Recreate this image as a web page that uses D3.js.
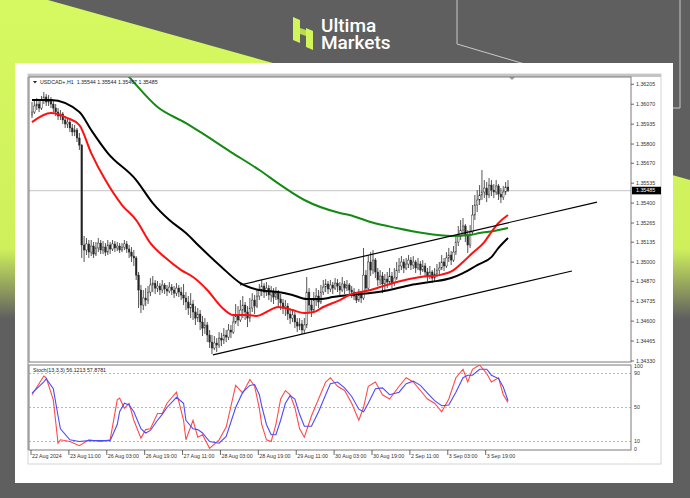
<!DOCTYPE html>
<html><head><meta charset="utf-8">
<script src="https://cdn.jsdelivr.net/npm/d3@7/dist/d3.min.js"></script>
<style>body{margin:0;background:#5f5f5f;}svg{display:block}</style>
</head><body><svg id="c" width="690" height="498"></svg>
<script>
// ---------------- DATA ----------------
const brandLines = ["Ultima","Markets"];
const symbolTitle = "USDCAD+,H1  1.35544 1.35544 1.35467 1.35485";
const stochTitle = "Stoch(13,3,3) 56.1213 57.8781";
const firstOpen = 1.35997;
const closes = [
1.36017,1.36058,1.36071,1.36044,1.36098,1.36119,1.36085,1.36098,1.36071,1.36044,
1.36017,1.35990,1.36004,1.35963,1.35936,1.35949,1.35909,1.35882,1.35895,1.35841,
1.35793,1.35116,1.35082,1.35123,1.35068,1.35109,1.35055,1.35096,1.35129,1.35082,
1.35102,1.35068,1.35116,1.35089,1.35123,1.35096,1.35109,1.35082,1.35102,1.35123,
1.35089,1.35068,1.35041,1.35028,1.34912,1.34811,1.34709,1.34757,1.34743,1.34797,
1.34845,1.34858,1.34824,1.34838,1.34811,1.34845,1.34818,1.34804,1.34831,1.34811,
1.34790,1.34824,1.34797,1.34777,1.34757,1.34730,1.34689,1.34716,1.34662,1.34621,
1.34648,1.34594,1.34553,1.34574,1.34506,1.34458,1.34418,1.34452,1.34438,1.34485,
1.34472,1.34506,1.34492,1.34540,1.34526,1.34594,1.34635,1.34608,1.34675,1.34709,
1.34662,1.34621,1.34689,1.34743,1.34702,1.34770,1.34811,1.34838,1.34797,1.34824,
1.34777,1.34804,1.34763,1.34790,1.34750,1.34723,1.34689,1.34702,1.34648,1.34621,
1.34642,1.34594,1.34567,1.34581,1.34540,1.34574,1.34797,1.34709,1.34675,1.34743,
1.34770,1.34730,1.34797,1.34831,1.34852,1.34818,1.34845,1.34824,1.34858,1.34838,
1.34811,1.34852,1.34824,1.34845,1.34811,1.34797,1.34770,1.34743,1.34777,1.34757,
1.34912,1.34824,1.35001,1.34946,1.35014,1.34933,1.34879,1.34906,1.34852,1.34885,
1.34865,1.34906,1.34858,1.34892,1.34946,1.34974,1.35001,1.34960,1.34987,1.35014,
1.34980,1.35001,1.34960,1.34987,1.34946,1.34974,1.34933,1.34906,1.34933,1.34892,
1.34919,1.34946,1.34960,1.35001,1.34974,1.35028,1.35048,1.35014,1.35068,1.35136,
1.35177,1.35217,1.35245,1.35184,1.35116,1.35204,1.35319,1.35387,1.35421,1.35455,
1.35475,1.35502,1.35455,1.35522,1.35488,1.35475,1.35516,1.35461,1.35441,1.35475,
1.35509,1.35485];
const highs = [
1.36085,1.36098,1.36112,1.36098,1.36126,1.36153,1.36139,1.36132,1.36119,1.36098,
1.36071,1.36044,1.36031,1.36017,1.35990,1.35976,1.35963,1.35936,1.35929,1.35909,
1.35875,1.35800,1.35177,1.35163,1.35150,1.35150,1.35136,1.35136,1.35163,1.35150,
1.35143,1.35129,1.35150,1.35136,1.35150,1.35143,1.35136,1.35129,1.35129,1.35150,
1.35143,1.35116,1.35102,1.35082,1.35041,1.34933,1.34845,1.34811,1.34824,1.34838,
1.34892,1.34906,1.34879,1.34872,1.34858,1.34879,1.34858,1.34845,1.34865,1.34852,
1.34838,1.34858,1.34845,1.34831,1.34852,1.34797,1.34770,1.34790,1.34743,1.34702,
1.34689,1.34675,1.34635,1.34621,1.34594,1.34540,1.34506,1.34499,1.34485,1.34526,
1.34520,1.34553,1.34540,1.34581,1.34574,1.34648,1.34716,1.34702,1.34743,1.34770,
1.34730,1.34702,1.34757,1.34790,1.34777,1.34811,1.34852,1.34879,1.34858,1.34865,
1.34845,1.34838,1.34824,1.34831,1.34811,1.34784,1.34750,1.34743,1.34723,1.34689,
1.34675,1.34662,1.34621,1.34621,1.34608,1.34621,1.34899,1.34824,1.34757,1.34797,
1.34824,1.34811,1.34845,1.34879,1.34885,1.34872,1.34879,1.34865,1.34892,1.34885,
1.34865,1.34899,1.34872,1.34879,1.34858,1.34838,1.34824,1.34797,1.34818,1.34804,
1.35096,1.34946,1.35048,1.35068,1.35082,1.35028,1.34960,1.34946,1.34933,1.34919,
1.34933,1.34960,1.34933,1.34960,1.35001,1.35028,1.35041,1.35021,1.35028,1.35048,
1.35034,1.35041,1.35014,1.35028,1.35007,1.35014,1.34994,1.34960,1.34974,1.34946,
1.34960,1.34987,1.35001,1.35048,1.35028,1.35068,1.35096,1.35075,1.35109,1.35184,
1.35245,1.35285,1.35299,1.35258,1.35217,1.35251,1.35387,1.35455,1.35488,1.35522,
1.35624,1.35556,1.35543,1.35570,1.35556,1.35529,1.35556,1.35529,1.35502,1.35516,
1.35543,1.35556];
const lows = [
1.35976,1.36004,1.36031,1.36017,1.36031,1.36071,1.36058,1.36058,1.36044,1.36017,
1.35990,1.35963,1.35963,1.35936,1.35909,1.35909,1.35882,1.35854,1.35854,1.35814,
1.35760,1.35028,1.35001,1.35048,1.35028,1.35041,1.35028,1.35041,1.35068,1.35055,
1.35055,1.35041,1.35048,1.35055,1.35075,1.35068,1.35075,1.35062,1.35068,1.35082,
1.35062,1.35028,1.35001,1.34974,1.34879,1.34689,1.34655,1.34675,1.34702,1.34716,
1.34770,1.34797,1.34784,1.34797,1.34777,1.34790,1.34784,1.34770,1.34790,1.34777,
1.34757,1.34770,1.34763,1.34743,1.34709,1.34675,1.34642,1.34621,1.34608,1.34574,
1.34594,1.34540,1.34499,1.34513,1.34458,1.34418,1.34377,1.34404,1.34391,1.34418,
1.34431,1.34445,1.34458,1.34472,1.34485,1.34513,1.34581,1.34567,1.34594,1.34621,
1.34608,1.34560,1.34594,1.34662,1.34648,1.34689,1.34743,1.34770,1.34757,1.34770,
1.34743,1.34730,1.34716,1.34743,1.34702,1.34675,1.34648,1.34635,1.34608,1.34581,
1.34594,1.34553,1.34526,1.34540,1.34513,1.34520,1.34553,1.34662,1.34628,1.34662,
1.34702,1.34689,1.34716,1.34777,1.34797,1.34784,1.34797,1.34784,1.34811,1.34797,
1.34777,1.34797,1.34784,1.34804,1.34770,1.34757,1.34743,1.34723,1.34730,1.34723,
1.34743,1.34797,1.34811,1.34906,1.34919,1.34892,1.34838,1.34845,1.34790,1.34811,
1.34824,1.34852,1.34824,1.34838,1.34879,1.34926,1.34946,1.34926,1.34946,1.34960,
1.34946,1.34953,1.34926,1.34946,1.34912,1.34933,1.34899,1.34872,1.34885,1.34858,
1.34872,1.34899,1.34912,1.34946,1.34940,1.34960,1.35001,1.34980,1.35001,1.35048,
1.35109,1.35150,1.35177,1.35136,1.35062,1.35096,1.35184,1.35285,1.35339,1.35387,
1.35421,1.35434,1.35407,1.35434,1.35448,1.35434,1.35455,1.35421,1.35400,1.35421,
1.35455,1.35475];
const lastPrice = 1.35485;
const priceTicks = [1.36205,1.36070,1.35935,1.35800,1.35670,1.35535,1.35400,1.35265,1.35135,1.35000,1.34870,1.34735,1.34600,1.34465,1.34330];
const timeLabels = ["22 Aug 2024","23 Aug 11:00","26 Aug 03:00","26 Aug 19:00","27 Aug 11:00","28 Aug 03:00","28 Aug 19:00","29 Aug 11:00","30 Aug 03:00","30 Aug 19:00","2 Sep 11:00","3 Sep 03:00","3 Sep 19:00"];
const timeLabelBars = [0,16,32,48,64,80,96,112,128,144,160,176,192];
const maFastBars = [0,8,15,20,25,31,38,44,50,56,63,68,74,80,85,91,95,99,104,110,115,119,123,130,134,143,147,154,164,172,178,182,186,191,194,197,201];
const maFastVals = [1.35949,1.36010,1.35976,1.35929,1.35739,1.35556,1.35387,1.35285,1.35129,1.35034,1.34946,1.34899,1.34811,1.34696,1.34642,1.34642,1.34635,1.34662,1.34696,1.34675,1.34655,1.34662,1.34696,1.34743,1.34777,1.34811,1.34831,1.34865,1.34899,1.34912,1.34946,1.35001,1.35062,1.35136,1.35204,1.35265,1.35319];
const maMidBars = [0,8,20,25,32,44,51,58,65,71,80,88,96,104,110,116,122,127,134,143,151,160,168,177,182,188,194,197,201];
const maMidVals = [1.36098,1.36098,1.36017,1.35895,1.35739,1.35556,1.35400,1.35285,1.35197,1.35102,1.34967,1.34858,1.34811,1.34797,1.34777,1.34750,1.34750,1.34763,1.34777,1.34790,1.34811,1.34845,1.34865,1.34892,1.34926,1.34980,1.35034,1.35096,1.35163];
const maSlowBars = [35,41,53,65,71,84,96,105,115,130,134,143,154,165,177,185,189,195,201];
const maSlowVals = [1.36356,1.36254,1.36051,1.35942,1.35882,1.35746,1.35624,1.35522,1.35421,1.35333,1.35319,1.35272,1.35231,1.35197,1.35177,1.35184,1.35197,1.35211,1.35231];
// channel trend lines
const upperLineBars = [87.8, 238.6];
const upperLinePrices = [1.34845, 1.35407];
const lowerLineBars = [76.4, 228];
const lowerLinePrices = [1.34371, 1.34940];
// stochastic
const stochBars = [0,5,6,9,11,12,16,20,24,29,33,36,37,39,41,43,46,48,50,53,55,57,61,64,65,68,70,72,75,79,82,86,89,92,94,96,97,99,101,103,105,107,109,111,113,115,118,121,124,126,129,132,135,138,140,142,145,148,151,155,158,161,164,167,170,173,176,179,182,184,186,189,192,194,197,199,201];
const stochMain = [65,87,85,59,8,12,10,5,12,10,12,59,61,49,55,35,14,24,25,43,43,55,68,35,12,35,15,18,2,12,27,76,67,83,75,49,30,12,10,30,60,70,65,50,25,15,40,60,80,85,75,70,55,35,50,75,80,65,60,75,85,80,70,60,55,45,60,85,95,80,95,100,90,80,85,65,56];
const stochSignal = [67,80,84,72,40,25,12,10,11,11,11,30,45,55,53,45,25,20,23,35,42,50,62,55,35,25,24,20,10,8,16,50,68,76,77,65,52,30,18,18,35,55,64,60,42,28,28,45,65,78,80,73,63,48,45,55,72,73,65,68,78,81,76,67,58,52,53,68,85,88,88,95,95,88,84,74,58];
const stochLevels = [90,50,10];
const stochAxisLabels = [100,90,50,10,0];

// ---------------- DRAW ----------------
const svg = d3.select('#c');
const defs = svg.append('defs');
const g1 = defs.append('linearGradient').attr('id','lime').attr('gradientUnits','userSpaceOnUse')
  .attr('x1',0).attr('y1',0).attr('x2',0).attr('y2',498);
g1.append('stop').attr('offset',0).attr('stop-color','#d6f860');
g1.append('stop').attr('offset',0.5).attr('stop-color','#cff05b');
g1.append('stop').attr('offset',0.64).attr('stop-color','#5f5f5f');
g1.append('stop').attr('offset',1).attr('stop-color','#5f5f5f');

svg.append('rect').attr('width',690).attr('height',498).attr('fill','#5f5f5f');
svg.append('path').attr('d','M0,0 L48,0 L690,180 L690,498 L0,498 Z').attr('fill','url(#lime)');
svg.append('path').attr('d','M457,0 L457,44 L545,70').attr('fill','none').attr('stroke','#c9c9c9').attr('stroke-width',1);
svg.append('path').attr('d','M680,0 L680,108 L670,108').attr('fill','none').attr('stroke','#c9c9c9').attr('stroke-width',1);

// logo
const logo = svg.append('g');
logo.append('path').attr('d','M293,17 L300,20 L300,43 L293,40 Z').attr('fill','#d3f55c');
logo.append('path').attr('d','M300,28 L306,30 L306,36 L300,34 Z').attr('fill','#b9d94e');
logo.append('path').attr('d','M306,28 L313,31 L313,50 L306,47 Z').attr('fill','#d3f55c');
const fo = logo.append('foreignObject').attr('x',321).attr('y',18.3).attr('width',110).attr('height',40);
fo.append('xhtml:div')
  .style('font-family','Roboto, Inter, sans-serif').style('font-size','19px').style('font-weight','500')
  .style('line-height','16.5px').style('color','#fff').style('margin','0').style('white-space','nowrap')
  .html(brandLines.join('<br>'));

// white card
svg.append('rect').attr('x',15).attr('y',63).attr('width',658).attr('height',420).attr('fill','#fff');

const L = 29, R = 631, T = 77, B = 362, ST = 365, SB = 450;
const font = 'Liberation Sans, Arial, sans-serif';
const fs = 5.3;

// window frame
svg.append('rect').attr('x',L-1).attr('y',74).attr('width',661-L+1).attr('height',390).attr('fill','none').attr('stroke','#d4d4d4');
svg.append('rect').attr('x',L-1).attr('y',74).attr('width',661-L+1).attr('height',3).attr('fill','#c4c4c4');

const x = d3.scaleLinear().domain([0,201]).range([32,508]);
const y = d3.scaleLinear().domain([1.34330,1.36205]).range([361,84.3]);
const ys = d3.scaleLinear().domain([0,100]).range([SB,ST]);

defs.append('clipPath').attr('id','mainClip').append('rect').attr('x',L).attr('y',T).attr('width',R-L).attr('height',B-T);
defs.append('clipPath').attr('id','stClip').append('rect').attr('x',L).attr('y',ST).attr('width',R-L).attr('height',SB-ST);

const main = svg.append('g').attr('clip-path','url(#mainClip)');
// current price line
main.append('line').attr('x1',L).attr('x2',R).attr('y1',y(lastPrice)).attr('y2',y(lastPrice)).attr('stroke','#cfcfcf').attr('stroke-width',1.3);

// candles
const bars = closes.map((c,i)=>({i,o: i===0?firstOpen:closes[i-1],h:highs[i],l:lows[i],c}));
const cg = main.append('g');
bars.forEach(b=>{
  const cx = x(b.i);
  const hi = Math.max(b.h,b.o,b.c), lo = Math.min(b.l,b.o,b.c);
  cg.append('line').attr('x1',cx).attr('x2',cx).attr('y1',y(hi)).attr('y2',y(lo)).attr('stroke','#2a2a2a').attr('stroke-width',0.8);
  const top = y(Math.max(b.o,b.c)), bot = y(Math.min(b.o,b.c));
  cg.append('rect').attr('x',cx-0.8).attr('width',1.6).attr('y',top).attr('height',Math.max(0.6,bot-top))
    .attr('fill', b.c>=b.o ? '#f4f4f4' : '#222').attr('stroke','#2a2a2a').attr('stroke-width',0.45);
});

const maLine = d3.line().x(d=>x(d[0])).y(d=>y(d[1])).curve(d3.curveMonotoneX);
main.append('path').attr('d',maLine(maSlowBars.map((b,k)=>[b,maSlowVals[k]]))).attr('fill','none').attr('stroke','#138a13').attr('stroke-width',2);
main.append('path').attr('d',maLine(maMidBars.map((b,k)=>[b,maMidVals[k]]))).attr('fill','none').attr('stroke','#000').attr('stroke-width',2);
main.append('path').attr('d',maLine(maFastBars.map((b,k)=>[b,maFastVals[k]]))).attr('fill','none').attr('stroke','#ff1010').attr('stroke-width',2);

const tl = d3.line().x(d=>x(d[0])).y(d=>y(d[1]));
main.append('path').attr('d',tl(upperLineBars.map((b,k)=>[b,upperLinePrices[k]]))).attr('stroke','#000').attr('stroke-width',1.2).attr('fill','none');
main.append('path').attr('d',tl(lowerLineBars.map((b,k)=>[b,lowerLinePrices[k]]))).attr('stroke','#000').attr('stroke-width',1.2).attr('fill','none');

// shift marker
svg.append('path').attr('d','M509,77 L515,77 L512,80 Z').attr('fill','#9a9a9a');

// frames
svg.append('rect').attr('x',L).attr('y',T).attr('width',R-L).attr('height',B-T).attr('fill','none').attr('stroke','#7a7a7a').attr('stroke-width',1);
svg.append('line').attr('x1',L-1).attr('x2',L-1).attr('y1',T).attr('y2',SB).attr('stroke','#9a9a9a');
svg.append('rect').attr('x',L).attr('y',ST).attr('width',R-L).attr('height',SB-ST).attr('fill','none').attr('stroke','#7a7a7a').attr('stroke-width',1);

// title
svg.append('path').attr('d','M33,81 L37,81 L35,83.5 Z').attr('fill','#222');
svg.append('text').attr('x',40).attr('y',84).text(symbolTitle).attr('font-family',font).attr('font-size',fs).attr('fill','#222').attr('xml:space','preserve');

// price axis
const pa = svg.append('g');
priceTicks.forEach(p=>{
  pa.append('line').attr('x1',R).attr('x2',R+3).attr('y1',y(p)).attr('y2',y(p)).attr('stroke','#444').attr('stroke-width',0.8);
  pa.append('text').attr('x',R+5).attr('y',y(p)+1.8).text(p.toFixed(5)).attr('font-family',font).attr('font-size',fs).attr('fill','#333');
});
pa.append('rect').attr('x',R+1).attr('y',y(lastPrice)-3.8).attr('width',29).attr('height',7.6).attr('fill','#000');
pa.append('text').attr('x',R+5).attr('y',y(lastPrice)+1.9).text(lastPrice.toFixed(5)).attr('font-family',font).attr('font-size',fs).attr('fill','#fff');

// stochastic
const st = svg.append('g');
stochLevels.forEach(v=>{
  st.append('line').attr('x1',L).attr('x2',R).attr('y1',ys(v)).attr('y2',ys(v)).attr('stroke','#8a9ab4').attr('stroke-width',0.7).attr('stroke-dasharray','2,2');
});
const sc = st.append('g').attr('clip-path','url(#stClip)');
const sl = d3.line().x(d=>x(d[0])).y(d=>ys(d[1]));
sc.append('path').attr('d',sl(stochBars.map((b,k)=>[b,stochMain[k]]))).attr('fill','none').attr('stroke','#ff4a4a').attr('stroke-width',1.1);
sc.append('path').attr('d',sl(stochBars.map((b,k)=>[b,stochSignal[k]]))).attr('fill','none').attr('stroke','#4a4aff').attr('stroke-width',1.1);
st.append('text').attr('x',33).attr('y',372).text(stochTitle).attr('font-family',font).attr('font-size',fs).attr('fill','#222');
stochAxisLabels.forEach(v=>{
  st.append('text').attr('x',R+3).attr('y',ys(v)+ (v===100?2.5:(v===0?0.5:1.8))).text(v).attr('font-family',font).attr('font-size',fs).attr('fill','#333');
});

// time axis
const ta = svg.append('g');
timeLabelBars.forEach((b,k)=>{
  const xx = x(b);
  ta.append('line').attr('x1',xx-1).attr('x2',xx-1).attr('y1',SB).attr('y2',SB+5).attr('stroke','#444').attr('stroke-width',0.8);
  ta.append('text').attr('x',xx).attr('y',SB+8).text(timeLabels[k]).attr('font-family',font).attr('font-size',fs).attr('fill','#333');
});
</script>
</body></html>
